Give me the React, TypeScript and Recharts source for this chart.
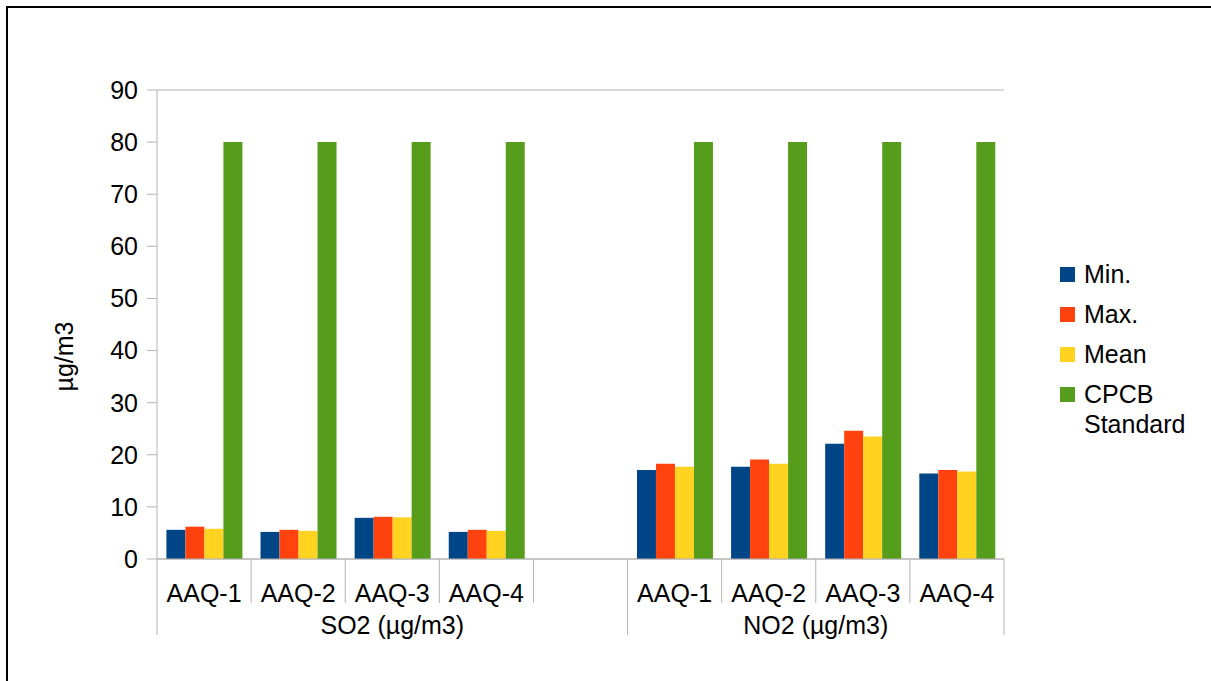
import React from 'react';
import { BarChart, Bar, XAxis, YAxis, CartesianGrid } from 'recharts';

// Monitoring stations along the x axis (blank slot separates the pollutant groups)
const categories = ['AAQ-1', 'AAQ-2', 'AAQ-3', 'AAQ-4', '', 'AAQ-1', 'AAQ-2', 'AAQ-3', 'AAQ-4'];
const groups = [
  { name: 'SO2 (µg/m3)', start: 0, count: 5 },
  { name: 'NO2 (µg/m3)', start: 5, count: 4 },
];

const minValues = [5.6, 5.2, 7.9, 5.2, null, 17.1, 17.7, 22.1, 16.4];
const maxValues = [6.2, 5.6, 8.1, 5.6, null, 18.3, 19.1, 24.6, 17.1];
const meanValues = [5.8, 5.4, 8.0, 5.4, null, 17.7, 18.3, 23.5, 16.8];
const cpcbValues = [80, 80, 80, 80, null, 80, 80, 80, 80];

const yTicks = [0, 10, 20, 30, 40, 50, 60, 70, 80, 90];

const series = [
  { key: 'min', name: 'Min.', color: '#004586', values: minValues },
  { key: 'max', name: 'Max.', color: '#ff420e', values: maxValues },
  { key: 'mean', name: 'Mean', color: '#ffd320', values: meanValues },
  { key: 'cpcb', name: 'CPCB Standard', legendLines: ['CPCB', 'Standard'], color: '#579d1c', values: cpcbValues },
];

const data = categories.map((label, i) => {
  const row: Record<string, any> = { id: i, label };
  series.forEach((s) => {
    row[s.key] = s.values[i];
  });
  return row;
});

const W = 1211;
const H = 681;
const MARGIN = { top: 90, right: 207, bottom: 0, left: 0 };
const Y_AXIS_W = 157;
const X_AXIS_H = 122;
const PLOT_W = W - MARGIN.left - MARGIN.right - Y_AXIS_W;
const BAND = PLOT_W / categories.length;

const FONT = '"Liberation Sans", Arial, sans-serif';
const FS = 25;
const GRID = '#b3b3b3';

const XTick = (props: any) => {
  const { x, y, payload } = props;
  const i = payload.index ?? payload.value;
  const left = x - BAND / 2;
  const group = groups.find((g) => g.start === i);
  const isLast = i === categories.length - 1;
  return (
    <g>
      <line x1={left} y1={y} x2={left} y2={y + (group ? 76 : 44)} stroke={GRID} strokeWidth={1} />
      {isLast && (
        <line x1={left + BAND} y1={y} x2={left + BAND} y2={y + 76} stroke={GRID} strokeWidth={1} />
      )}
      <text x={x} y={y + 43} textAnchor="middle" fontSize={FS} fontFamily={FONT} fill="#000">
        {categories[i]}
      </text>
      {group && (
        <text
          x={left + (group.count * BAND) / 2}
          y={y + 75}
          textAnchor="middle"
          fontSize={FS}
          fontFamily={FONT}
          fill="#000"
        >
          {group.name}
        </text>
      )}
    </g>
  );
};

const YLabel = (props: any) => {
  const vb = props.viewBox || { x: 0, y: MARGIN.top, width: Y_AXIS_W, height: 469 };
  const cx = vb.x + 73;
  const cy = vb.y + vb.height / 2 + 32;
  return (
    <text
      x={cx}
      y={cy}
      transform={`rotate(-90, ${cx}, ${cy})`}
      textAnchor="middle"
      fontSize={FS}
      fontFamily={FONT}
      fill="#000"
    >
      µg/m3
    </text>
  );
};

const LegendBlock = () => (
  <div
    style={{
      position: 'absolute',
      left: 1060,
      top: 259,
      fontFamily: FONT,
      fontSize: FS,
      color: '#000',
      lineHeight: '30px',
    }}
  >
    {series.map((s) => (
      <div key={s.key} style={{ display: 'flex', alignItems: 'flex-start', marginBottom: 10 }}>
        <div
          style={{
            width: 15,
            height: 15,
            background: s.color,
            marginTop: 8,
            marginRight: 9,
            flexShrink: 0,
          }}
        />
        <div>
          {(s.legendLines || [s.name]).map((ln) => (
            <div key={ln}>{ln}</div>
          ))}
        </div>
      </div>
    ))}
  </div>
);

export default function App() {
  return (
    <div
      style={{
        position: 'absolute',
        left: 0,
        top: 0,
        width: W,
        height: H,
        overflow: 'hidden',
        background: '#fff',
      }}
    >
      <div
        style={{
          position: 'absolute',
          left: 6,
          top: 6,
          width: W + 100,
          height: H + 100,
          borderTop: '2px solid #000',
          borderLeft: '2px solid #000',
        }}
      />
      <div style={{ position: 'absolute', left: 0, top: 0 }}>
        <BarChart
          width={W}
          height={H}
          data={data}
          margin={MARGIN}
          barCategoryGap="10%"
          barGap={0}
          style={{ fontFamily: FONT }}
        >
          <CartesianGrid vertical={false} stroke={GRID} strokeWidth={1} />
          <XAxis
            dataKey="id"
            type="category"
            height={X_AXIS_H}
            tickLine={false}
            tickSize={0}
            tickMargin={0}
            axisLine={{ stroke: GRID }}
            interval={0}
            tick={<XTick />}
          />
          <YAxis
            yAxisId="left"
            width={Y_AXIS_W}
            domain={[0, 90]}
            ticks={yTicks}
            interval={0}
            tickSize={10}
            tickMargin={9}
            tickLine={{ stroke: GRID }}
            axisLine={{ stroke: GRID }}
            tick={{ fontSize: FS, fontFamily: FONT, fill: '#000' }}
            label={<YLabel />}
          />
          <YAxis
            yAxisId="right"
            orientation="right"
            width={0}
            domain={[0, 90]}
            tick={false}
            tickLine={false}
            axisLine={{ stroke: GRID }}
          />
          {series.map((s) => (
            <Bar
              key={s.key}
              yAxisId="left"
              dataKey={s.key}
              name={s.name}
              fill={s.color}
              isAnimationActive={false}
            />
          ))}
        </BarChart>
      </div>
      <LegendBlock />
    </div>
  );
}
